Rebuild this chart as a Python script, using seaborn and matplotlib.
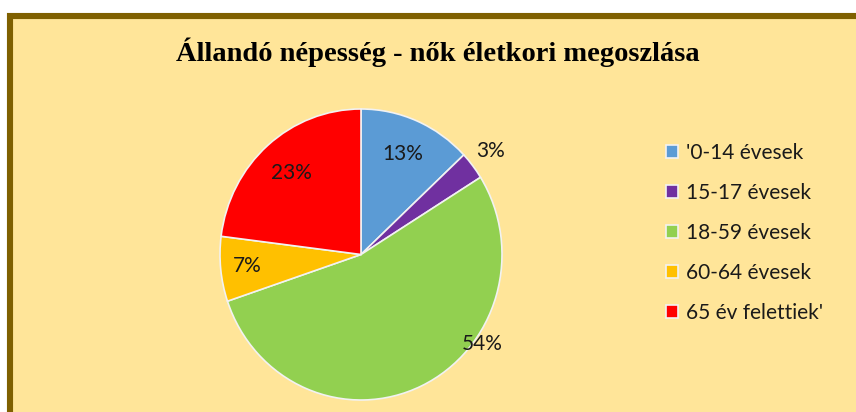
import numpy as np
import matplotlib
matplotlib.use('Agg')
import matplotlib.pyplot as plt
from matplotlib.patches import Rectangle
import seaborn as sns

title = 'Állandó népesség - nők életkori megoszlása'
categories = ["'0-14 évesek", '15-17 évesek', '18-59 évesek', '60-64 évesek', "65 év felettiek'"]
shares = [13.0, 3.1, 53.7, 7.2, 23.0]
colors = ['#5B9BD5', '#7030A0', '#92D050', '#FFC000', '#FF0000']
# label placement: distance from centre (radius = 1) and position along the wedge
label_dist = [0.75, 1.16, 1.06, 0.81, 0.75]
label_frac = [0.5, 0.5, 0.35, 0.5, 0.5]

sns.set_theme(style='white')
plt.rcParams['font.family'] = ['Lato', 'DejaVu Sans']

W, H = 856, 412
fig = plt.figure(figsize=(W / 100, H / 100), dpi=100, facecolor='white')

# brown frame with pale yellow fill (cut off at right and bottom)
fig.patches.append(Rectangle((10 / W, -20 / H), 880 / W, (H - 16 + 20) / H,
                             transform=fig.transFigure, facecolor='#FFE599',
                             edgecolor='#7F6000', linewidth=4.4, zorder=-1))

cx, cy, rx, ry = 361, 254.5, 141, 145.5
aw, ah = 2.5 * rx, 2.5 * ry
ax = fig.add_axes([(cx - aw / 2) / W, (H - cy - ah / 2) / H, aw / W, ah / H])
ax.patch.set_alpha(0)

wedges, texts, autotexts = ax.pie(shares, colors=sns.color_palette(colors),
                                  startangle=90, counterclock=False,
                                  autopct='%1.0f%%', pctdistance=0.75,
                                  wedgeprops=dict(edgecolor='#F2F2F2', linewidth=1.2),
                                  textprops=dict(fontsize=15, color='#1A1A1A'))
for w, t, d, f in zip(wedges, autotexts, label_dist, label_frac):
    # wedges run clockwise, so theta2 is the start
    ang = np.deg2rad(w.theta2 + (w.theta1 - w.theta2) * f)
    t.set_position((d * np.cos(ang), d * np.sin(ang)))
ax.set_xlim(-1.25, 1.25)
ax.set_ylim(-1.25, 1.25)
ax.set_aspect('auto')

fig.text(438 / W, 1 - 52 / H, title, ha='center', va='center', color='black',
         fontsize=20.5, fontweight='bold', family='Liberation Serif')

fig.legend(wedges, categories, loc='upper left', bbox_to_anchor=(647 / W, 1 - 124 / H),
           frameon=False, fontsize=15, handlelength=0.6, handleheight=0.6,
           handletextpad=0.35, labelspacing=0.96, labelcolor='#1A1A1A')

fig.savefig('out.png', dpi=100, facecolor='white')
